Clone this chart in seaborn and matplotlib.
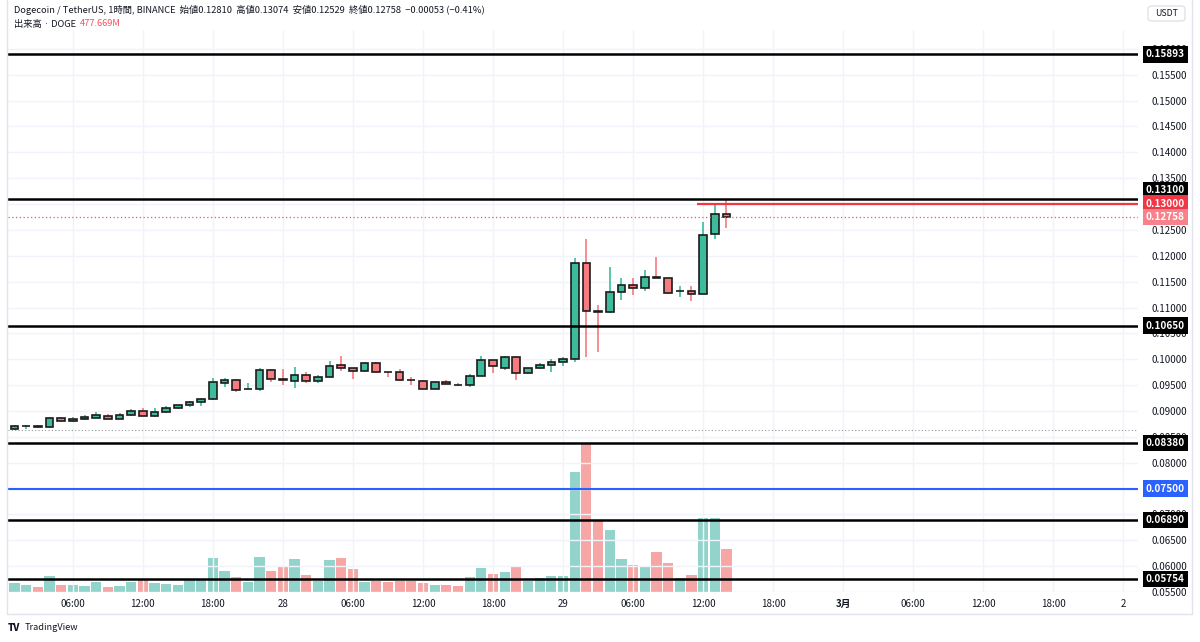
import numpy as np
import pandas as pd
import matplotlib
matplotlib.use("Agg")
import matplotlib.pyplot as plt
import matplotlib.transforms as mtransforms
from matplotlib.lines import Line2D
from matplotlib.patches import FancyBboxPatch
import seaborn as sns

sns.set_theme(style="white")
plt.rcParams['font.family'] = ['Noto Sans CJK JP', 'DejaVu Sans']

# ---------------- data ----------------
opens = [0.08648, 0.08715, 0.08715, 0.08687, 0.08865, 0.08802, 0.08840, 0.08860, 0.08910, 0.08846,
         0.08923, 0.09000, 0.08910, 0.08975, 0.09058, 0.09110, 0.09167, 0.09225, 0.09538, 0.09590,
         0.09425, 0.09429, 0.09783, 0.09621, 0.09583, 0.09692, 0.09571, 0.09654, 0.09879, 0.09821,
         0.09763, 0.09923, 0.09758, 0.09744, 0.09600, 0.09583, 0.09429, 0.09558, 0.09502, 0.09494,
         0.09679, 0.09987, 0.09840, 0.10052, 0.09725, 0.09821, 0.09879, 0.09942, 0.10006, 0.11860,
         0.10925, 0.10904, 0.11294, 0.11437, 0.11379, 0.11585, 0.11571, 0.11310, 0.11321, 0.11263,
         0.12417, 0.12810]
highs = [0.08725, 0.08720, 0.08725, 0.08890, 0.08890, 0.08879, 0.08917, 0.08987, 0.08942, 0.08967,
         0.09038, 0.09052, 0.09052, 0.09090, 0.09121, 0.09187, 0.09250, 0.09635, 0.09635, 0.09615,
         0.09538, 0.09827, 0.09808, 0.09802, 0.09846, 0.09744, 0.09698, 0.09967, 0.10058, 0.09827,
         0.09942, 0.09942, 0.09760, 0.09813, 0.09648, 0.09596, 0.09558, 0.09590, 0.09538, 0.09712,
         0.10063, 0.09990, 0.10058, 0.10058, 0.09827, 0.09929, 0.10000, 0.10038, 0.11956, 0.12327,
         0.11044, 0.11783, 0.11577, 0.11577, 0.11717, 0.11981, 0.11577, 0.11410, 0.11410, 0.12648,
         0.13000, 0.13074]
lows = [0.08635, 0.08648, 0.08670, 0.08680, 0.08795, 0.08788, 0.08827, 0.08855, 0.08848, 0.08840,
        0.08910, 0.08900, 0.08890, 0.08970, 0.09044, 0.09083, 0.09102, 0.09220, 0.09462, 0.09365,
        0.09420, 0.09390, 0.09552, 0.09506, 0.09442, 0.09538, 0.09533, 0.09650, 0.09775, 0.09621,
        0.09750, 0.09737, 0.09660, 0.09583, 0.09494, 0.09423, 0.09423, 0.09519, 0.09487, 0.09462,
        0.09667, 0.09737, 0.09794, 0.09590, 0.09712, 0.09808, 0.09750, 0.09871, 0.09948, 0.10052,
        0.10148, 0.10898, 0.11140, 0.11237, 0.11313, 0.11575, 0.11256, 0.11212, 0.11129, 0.11258,
        0.12321, 0.12529]
closes = [0.08706, 0.08718, 0.08690, 0.08865, 0.08802, 0.08852, 0.08885, 0.08917, 0.08852, 0.08923,
          0.09000, 0.08904, 0.08975, 0.09063, 0.09110, 0.09167, 0.09231, 0.09552, 0.09590, 0.09410,
          0.09430, 0.09783, 0.09610, 0.09596, 0.09692, 0.09571, 0.09660, 0.09865, 0.09827, 0.09763,
          0.09923, 0.09750, 0.09755, 0.09602, 0.09592, 0.09429, 0.09552, 0.09525, 0.09498, 0.09667,
          0.09987, 0.09860, 0.10052, 0.09731, 0.09821, 0.09885, 0.09937, 0.10006, 0.11860, 0.10937,
          0.10918, 0.11302, 0.11437, 0.11371, 0.11583, 0.11580, 0.11288, 0.11315, 0.11263, 0.12410,
          0.12808, 0.12758]
volumes_m = [96, 74, 55, 176, 77, 74, 63, 110, 55, 63,
             110, 140, 96, 88, 74, 140, 132, 375, 232, 165,
             110, 389, 232, 283, 364, 191, 125, 350, 375, 250,
             110, 125, 110, 121, 121, 99, 77, 77, 66, 165,
             261, 199, 224, 272, 121, 151, 173, 173, 1320, 1640,
             794, 684, 364, 295, 279, 438, 320, 158, 191, 813,
             813, 477.669]

# x tick positions (hours since 27 Feb 01:00) and labels
xtick_hours = [5, 11, 17, 23, 29, 35, 41, 47, 53, 59, 65, 71, 77, 83, 89, 95]
xtick_labels = ["06:00", "12:00", "18:00", "28", "06:00", "12:00", "18:00", "29",
                "06:00", "12:00", "18:00", "3月", "06:00", "12:00", "18:00", "2"]
# price scale ticks (0.075 and 0.130 are hidden under the level boxes)
price_ticks = [0.055, 0.060, 0.065, 0.070, 0.075, 0.080, 0.085, 0.090, 0.095, 0.100,
               0.105, 0.110, 0.115, 0.120, 0.125, 0.130, 0.135, 0.140, 0.145, 0.150,
               0.155, 0.160]
hidden_ticks = [0.075, 0.130]
black_levels = [0.15893, 0.13100, 0.10650, 0.08380, 0.06890, 0.05754]
blue_level = 0.07500
red_level = 0.13000
last_close = 0.12758
gray_dotted = 0.08635

UP = "#3dbc9b"
DOWN = "#f77a7e"
UP_V = "#92d3cb"
DOWN_V = "#f6a7a5"
EDGE = "#1c1c1c"
TXT = "#131722"

df = pd.DataFrame({"open": opens, "high": highs, "low": lows, "close": closes, "vol": volumes_m})
df["i"] = np.arange(len(df))
df["dir"] = np.where(df["close"] >= df["open"], "up", "down")

# ---------------- figure ----------------
fig = plt.figure(figsize=(12, 6.42), dpi=100)
fig.patch.set_facecolor("white")
W, H = 1200, 642
L, R, T, B = 8, 1138, 30, 592
ax = fig.add_axes([L / W, 1 - B / H, (R - L) / W, (B - T) / H])
ax_v = ax.twinx()
ax.set_zorder(ax_v.get_zorder() + 1)
ax.patch.set_visible(False)

# volume
sns.barplot(data=df, x="i", y="vol", hue="dir", palette={"up": UP_V, "down": DOWN_V},
            native_scale=True, dodge=False, width=0.88, errorbar=None, saturation=1,
            legend=False, ax=ax_v, linewidth=0)
ax_v.set_ylim(0, 6200)
ax_v.set_yticks([])
ax_v.set_ylabel("")
ax_v.set_xlabel("")
for s in ax_v.spines.values():
    s.set_visible(False)

# candles
up = df["dir"] == "up"
ax.vlines(df["i"], df["low"], df["high"], colors=np.where(up, UP, DOWN), lw=1.2, zorder=3)
body_lo = np.minimum(df["open"], df["close"])
body_h = np.maximum(np.abs(df["close"] - df["open"]), 0.00003)
ax.bar(df["i"], body_h, bottom=body_lo, width=0.66, color=np.where(up, UP, DOWN),
       edgecolor=EDGE, linewidth=1.2, zorder=4)

# levels
for lv in black_levels:
    ax.axhline(lv, color="black", lw=1.8, zorder=5)
ax.axhline(blue_level, color="#2962ff", lw=1.5, zorder=5)
ax.axhline(last_close, color="#f7525f", lw=0.9, ls=(0, (1, 2)), zorder=5)
ax.axhline(gray_dotted, color="#9598a1", lw=0.8, ls=(0, (1, 2)), zorder=2)
ax.hlines(red_level, 58.5, 200, color="#f23645", lw=1.6, zorder=5)

ax.set_xlim(-0.56, 96.27)
ax.set_ylim(0.05558, 0.16365)

# grid & ticks
ax.set_xticks(xtick_hours)
ax.set_xticklabels(xtick_labels)
ax.set_yticks(price_ticks)
ax.set_yticklabels(["" if t in hidden_ticks else f"{t:.5f}" for t in price_ticks])
ax.yaxis.tick_right()
ax.grid(True, color="#f0f3fa", lw=1, zorder=0)
ax.set_axisbelow(True)
ax.tick_params(axis="y", length=0, pad=10, labelsize=7, labelcolor=TXT)
ax.tick_params(axis="x", length=0, pad=5, labelsize=7, labelcolor=TXT)
for lab in ax.get_xticklabels():
    if lab.get_text() == "3月":
        lab.set_fontweight("bold")
for s in ax.spines.values():
    s.set_visible(False)

# price boxes
trans = mtransforms.blended_transform_factory(ax.transAxes, ax.transData)
xbox = (1146 - L) / (R - L)
def box(level, fc, dy_px=0.0):
    tr = trans + mtransforms.ScaledTranslation(0, dy_px / 100.0, fig.dpi_scale_trans)
    ax.text(xbox, level, f"{level:.5f}", transform=tr, ha="left", va="center",
            color="white", fontsize=7.2, fontweight="bold", clip_on=False, zorder=20,
            bbox=dict(boxstyle="square,pad=0.32", fc=fc, ec="none"))
for lv in black_levels:
    box(lv, "black", 9.0 if lv == 0.13100 else 0.0)
box(red_level, "#f23645", 0.5)
box(last_close, "#f7828b", -0.5)
box(blue_level, "#2962ff")

# frame lines
fc = "#e0e3eb"
fig.add_artist(Line2D([7 / W, 7 / W], [1 - 614 / H, 1], color=fc, lw=1))
fig.add_artist(Line2D([1192 / W, 1192 / W], [1 - 614 / H, 1], color=fc, lw=1))
fig.add_artist(Line2D([7 / W, 1192 / W], [1 - 614 / H, 1 - 614 / H], color=fc, lw=1))

# header
fig.text(14 / W, 1 - 10 / H,
         "Dogecoin / TetherUS, 1時間, BINANCE  始値0.12810  高値0.13074  安値0.12529  終値0.12758  −0.00053 (−0.41%)",
         ha="left", va="center", fontsize=6.7, color=TXT)
t1 = fig.text(14 / W, 1 - 24 / H, "出来高 · DOGE  ", ha="left", va="center", fontsize=6.7, color=TXT)
fig.canvas.draw()
bb = t1.get_window_extent()
fig.text(bb.x1 / W, 1 - 24 / H, "477.669M", ha="left", va="center", fontsize=6.7, color="#f7525f")

# USDT box
fig.add_artist(FancyBboxPatch((1148 / W, 1 - 21 / H), 37 / W, 15 / H,
                              boxstyle="round,pad=0,rounding_size=0.004", fc="white", ec=fc, lw=1,
                              transform=fig.transFigure))
fig.text(1166.5 / W, 1 - 13.5 / H, "USDT", ha="center", va="center", fontsize=6.3, color=TXT)

# TradingView logo
fig.text(8 / W, 1 - 628 / H, "TV", ha="left", va="center", fontsize=7, fontweight="heavy", color=TXT)
fig.text(25 / W, 1 - 628 / H, "TradingView", ha="left", va="center", fontsize=6.6, color=TXT)

fig.savefig("out.png", dpi=100, facecolor="white")
